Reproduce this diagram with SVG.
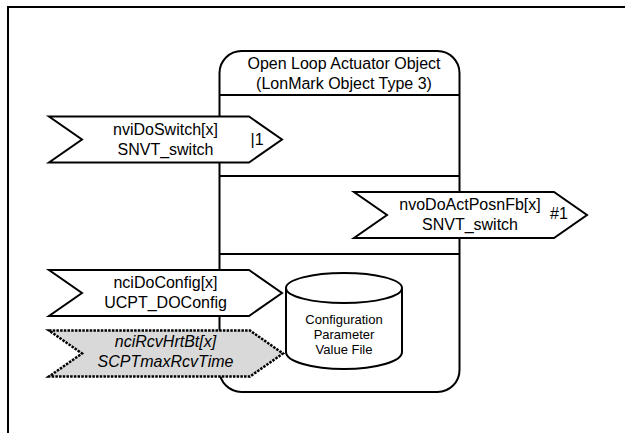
<svg xmlns="http://www.w3.org/2000/svg" width="625" height="433" viewBox="0 0 625 433">
<style>
.ln{fill:none;stroke:#000;stroke-width:2}
.box{fill:#fff;stroke:#000;stroke-width:2;stroke-linejoin:miter}
.gray{fill:#d9d9d9;stroke:#000;stroke-width:2.5;stroke-dasharray:2.5 1.2}
text{font-family:"Liberation Sans",Arial,sans-serif;font-size:16px;fill:#000;text-anchor:middle}
.it{font-style:italic}
.sm{font-size:13px}
.st{text-anchor:start}
</style>
<rect width="625" height="433" fill="#fff"/>
<path class="ln" d="M8,433 V7 H625"/>
<g id="object">
<path class="box" d="M219.5,73 A22,22 0 0 1 241.5,51 H437.5 A22,22 0 0 1 459.5,73 V370 A22,22 0 0 1 437.5,392 H241.5 A22,22 0 0 1 219.5,370 Z"/>
<path class="ln" d="M219.5,95 H459.5 M219.5,176 H459.5 M219.5,254 H459.5"/>
<text x="344" y="68.5">Open Loop Actuator Object</text>
<text x="344" y="88.5">(LonMark Object Type 3)</text>
</g>
<g id="cpvf">
<path class="box" d="M286,288 V352 A58,17 0 0 0 402,352 V288"/>
<ellipse class="box" cx="344" cy="288" rx="58" ry="15"/>
<text class="sm" x="344" y="323.5">Configuration</text>
<text class="sm" x="344" y="338.5">Parameter</text>
<text class="sm" x="344" y="353.5">Value File</text>
</g>
<g id="nviDoSwitch">
<path class="box" d="M49,116.5 H249 L282,139.5 L249,162.5 H49 L82,139.5 Z"/>
<text x="165.5" y="134.5">nviDoSwitch[x]</text>
<text x="165.5" y="154.5">SNVT_switch</text>
<text class="st" x="250.5" y="145">|1</text>
</g>
<g id="nvoDoActPosnFb">
<path class="box" d="M354,192 H554 L587,215 L554,238 H354 L387,215 Z"/>
<text x="470" y="210">nvoDoActPosnFb[x]</text>
<text x="470" y="230">SNVT_switch</text>
<text class="st" x="550" y="218.5">#1</text>
</g>
<g id="nciDoConfig">
<path class="box" d="M49,270 H249 L282,293 L249,316 H49 L82,293 Z"/>
<text x="165.5" y="287.5">nciDoConfig[x]</text>
<text x="165.5" y="307.5">UCPT_DOConfig</text>
</g>
<g id="nciRcvHrtBt">
<path class="gray" d="M49,330.5 H250 L283,353.5 L250,376.5 H49 L82,353.5 Z"/>
<text class="it" x="165.5" y="347">nciRcvHrtBt[x]</text>
<text class="it" x="165.5" y="367">SCPTmaxRcvTime</text>
</g>
<g id="connectors"/>
</svg>
